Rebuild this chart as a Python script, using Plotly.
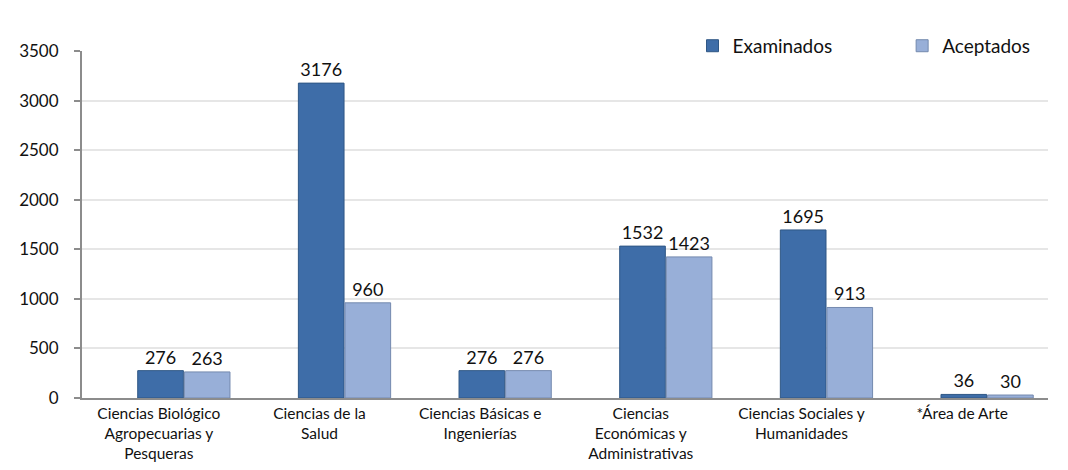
import plotly.graph_objects as go

categories = [
    "Ciencias Biológico<br>Agropecuarias y<br>Pesqueras",
    "Ciencias de la<br>Salud",
    "Ciencias Básicas e<br>Ingenierías",
    "Ciencias<br>Económicas y<br>Administrativas",
    "Ciencias Sociales y<br>Humanidades",
    "*Área de Arte",
]
examinados = [276, 3176, 276, 1532, 1695, 36]
aceptados = [263, 960, 276, 1423, 913, 30]
y_ticks = [0, 500, 1000, 1500, 2000, 2500, 3000, 3500]

font_family = "Lato, 'Open Sans', 'Liberation Sans', sans-serif"

fig = go.Figure()
fig.add_trace(go.Bar(
    name="Examinados", x=categories, y=examinados,
    marker=dict(color="#3E6DA8", line=dict(color="#2F5785", width=1)),
    text=[str(v) for v in examinados], textposition="outside",
    textangle=0, constraintext="none",
    textfont=dict(size=18, color="#111111", family=font_family),
    cliponaxis=False, legend="legend",
))
fig.add_trace(go.Bar(
    name="Aceptados", x=categories, y=aceptados,
    marker=dict(color="#98AFD8", line=dict(color="#7489AE", width=1)),
    text=[str(v) for v in aceptados], textposition="outside",
    textangle=0, constraintext="none",
    textfont=dict(size=18, color="#111111", family=font_family),
    cliponaxis=False, legend="legend2",
))

leg_common = dict(
    orientation="h", yanchor="bottom", y=0.96, xanchor="left",
    font=dict(size=19), bgcolor="rgba(0,0,0,0)", itemwidth=30,
)
fig.update_layout(
    width=1068, height=470,
    margin=dict(l=74, r=28, t=43, b=80, autoexpand=False),
    paper_bgcolor="white", plot_bgcolor="white",
    barmode="group", bargap=0.42, bargroupgap=0.02,
    font=dict(family=font_family, color="#111111"),
    legend=dict(x=0.632, **leg_common),
    legend2=dict(x=0.849, **leg_common),
    showlegend=True,
)
fig.update_yaxes(
    range=[0, 3500], tickvals=y_ticks, ticktext=[str(v) for v in y_ticks],
    showgrid=True, gridcolor="#E6E6E6", gridwidth=1.5,
    showline=True, linecolor="#8C8C8C", linewidth=2,
    ticks="outside", ticklen=6, tickcolor="#8C8C8C", tickwidth=2,
    ticklabelstandoff=12,
    tickfont=dict(size=17, color="#111111"), zeroline=False,
)
fig.update_xaxes(
    range=[-0.634, 5.379],
    showline=True, linecolor="#8C8C8C", linewidth=2,
    ticks="", tickfont=dict(size=15.5, color="#111111"),
    tickangle=0, showgrid=False, ticklabelshift=-25,
)
fig.write_html("out.html")
